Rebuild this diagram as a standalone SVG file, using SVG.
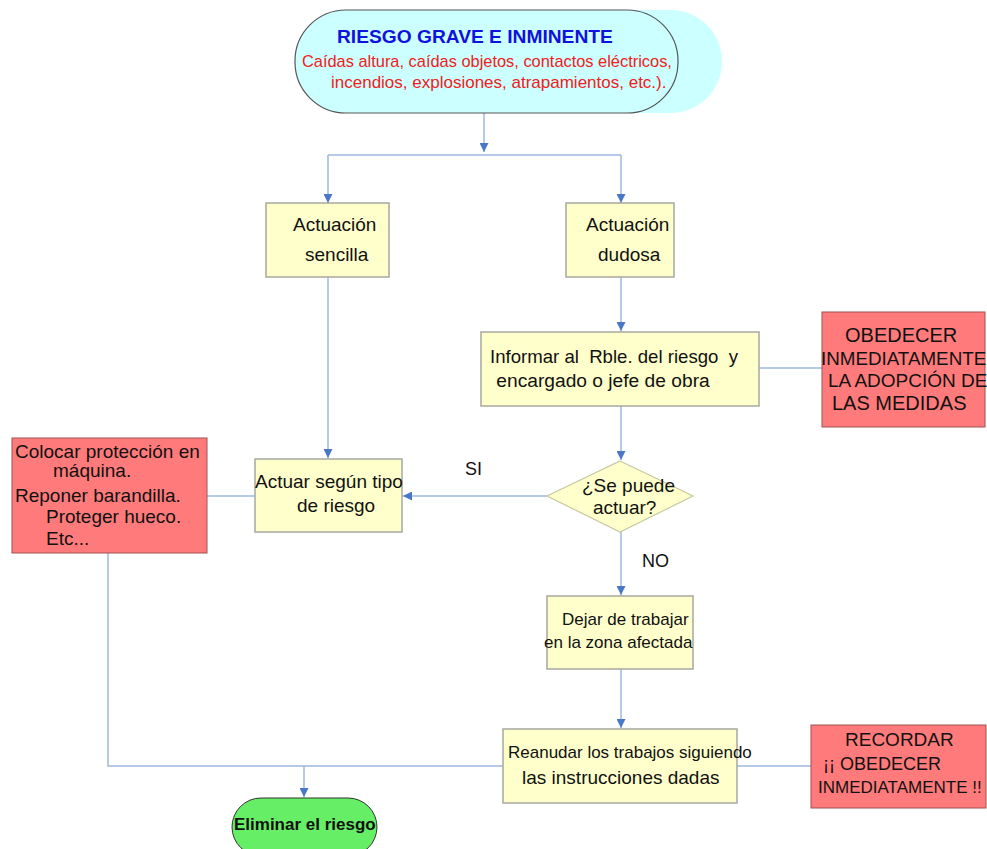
<svg xmlns="http://www.w3.org/2000/svg" width="987" height="849" viewBox="0 0 987 849">
<style>
.t{font-family:"Liberation Sans",Arial,sans-serif;fill:#111;white-space:pre}
.y{fill:#FFFFCC;stroke:#A8A8A0;stroke-width:1.5}
.r{fill:#FF7B7B;stroke:#A05050;stroke-width:1}
.c{fill:none;stroke:#9DB7E0;stroke-width:1.5}
</style>
<defs>
<marker id="a" viewBox="0 0 10 10" refX="10" refY="5" markerWidth="9" markerHeight="9" markerUnits="userSpaceOnUse" orient="auto">
<path d="M0,0 L10,5 L0,10 Z" fill="#4A78C8"/>
</marker>
</defs>
<rect width="987" height="849" fill="#fff"/>
<g id="connectors">
<path class="c" d="M484,113 V152" marker-end="url(#a)"/>
<path class="c" d="M328,155 H621"/>
<path class="c" d="M328,155 V203" marker-end="url(#a)"/>
<path class="c" d="M621,155 V203" marker-end="url(#a)"/>
<path class="c" d="M328,277 V458" marker-end="url(#a)"/>
<path class="c" d="M621,277 V331" marker-end="url(#a)"/>
<path class="c" d="M759,368 H822"/>
<path class="c" d="M621,406 V460" marker-end="url(#a)"/>
<path class="c" d="M547,496 H403" marker-end="url(#a)"/>
<path class="c" d="M255,496 H207"/>
<path class="c" d="M621,532 V595" marker-end="url(#a)"/>
<path class="c" d="M621,669 V728" marker-end="url(#a)"/>
<path class="c" d="M737,766 H811"/>
<path class="c" d="M108,553 V766 H503"/>
<path class="c" d="M304,766 V797" marker-end="url(#a)"/>
<text class="t" x="465" y="475" font-size="18">SI</text>
<text class="t" x="642" y="567" font-size="18">NO</text>
</g>
<g id="riesgo">
<rect x="300" y="10" width="422" height="103" rx="51" fill="#CCFFFF"/>
<rect x="295" y="10" width="383" height="103" rx="51" fill="#CCFFFF" stroke="#555" stroke-width="1.2"/>
<text x="337" y="43" font-size="19.2" font-weight="bold" font-family="Liberation Sans,Arial,sans-serif" fill="#1010E0">RIESGO GRAVE E INMINENTE</text>
<text x="302" y="67" font-size="16.4" font-family="Liberation Sans,Arial,sans-serif" fill="#F02020">Caídas altura, caídas objetos, contactos eléctricos,</text>
<text x="331" y="88" font-size="17" font-family="Liberation Sans,Arial,sans-serif" fill="#F02020">incendios, explosiones, atrapamientos, etc.).</text>
</g>
<g id="sencilla">
<rect class="y" x="266" y="203" width="123" height="74"/>
<text class="t" x="293" y="231" font-size="19">Actuación</text>
<text class="t" x="305" y="261" font-size="19">sencilla</text>
</g>
<g id="dudosa">
<rect class="y" x="566" y="203" width="108" height="74"/>
<text class="t" x="586" y="231" font-size="19">Actuación</text>
<text class="t" x="598" y="261" font-size="19">dudosa</text>
</g>
<g id="informar">
<rect class="y" x="481" y="332" width="278" height="74"/>
<text class="t" x="490" y="363" font-size="18.6">Informar al  Rble. del riesgo  y</text>
<text class="t" x="491" y="387" font-size="19.2"> encargado o jefe de obra</text>
</g>
<g id="obedecer">
<rect class="r" x="822" y="312" width="163" height="115"/>
<text class="t" x="845" y="342" font-size="20">OBEDECER</text>
<text class="t" x="821" y="365" font-size="18.8">INMEDIATAMENTE</text>
<text class="t" x="828" y="387" font-size="19">LA ADOPCIÓN DE</text>
<text class="t" x="832" y="410" font-size="20">LAS MEDIDAS</text>
</g>
<g id="decision">
<polygon points="620,461 693,496 620,532 547,496" fill="#FFFFCC" stroke="#C8C8A0" stroke-width="1.2"/>
<text class="t" x="582" y="492" font-size="19">¿Se puede</text>
<text class="t" x="593" y="514" font-size="19">actuar?</text>
</g>
<g id="actuar">
<rect class="y" x="255" y="459" width="147" height="73"/>
<text class="t" x="255" y="488" font-size="19">Actuar según tipo</text>
<text class="t" x="297" y="512" font-size="19">de riesgo</text>
</g>
<g id="colocar">
<rect class="r" x="12" y="438" width="195" height="115"/>
<text class="t" x="15" y="458" font-size="19">Colocar protección en</text>
<text class="t" x="53" y="477" font-size="19">máquina.</text>
<text class="t" x="15" y="502" font-size="19">Reponer barandilla.</text>
<text class="t" x="46" y="523" font-size="19">Proteger hueco.</text>
<text class="t" x="46" y="545" font-size="19">Etc...</text>
</g>
<g id="dejar">
<rect class="y" x="547" y="596" width="146" height="73"/>
<text class="t" x="562" y="625" font-size="17">Dejar de trabajar</text>
<text class="t" x="544" y="648" font-size="17">en la zona afectada</text>
</g>
<g id="reanudar">
<rect class="y" x="503" y="729" width="234" height="74"/>
<text class="t" x="508" y="758" font-size="17">Reanudar los trabajos siguiendo</text>
<text class="t" x="522" y="784" font-size="19">las instrucciones dadas</text>
</g>
<g id="recordar">
<rect class="r" x="811" y="725" width="175" height="83"/>
<text class="t" x="845" y="746" font-size="19">RECORDAR</text>
<text class="t" x="823" y="770" font-size="18">¡¡ OBEDECER</text>
<text class="t" x="818" y="793" font-size="17">INMEDIATAMENTE !!</text>
</g>
<g id="eliminar">
<rect x="232" y="798" width="145" height="58" rx="29" fill="#66EE66" stroke="#333" stroke-width="1"/>
<text class="t" x="234" y="830" font-size="17" font-weight="bold">Eliminar el riesgo</text>
</g>
</svg>
